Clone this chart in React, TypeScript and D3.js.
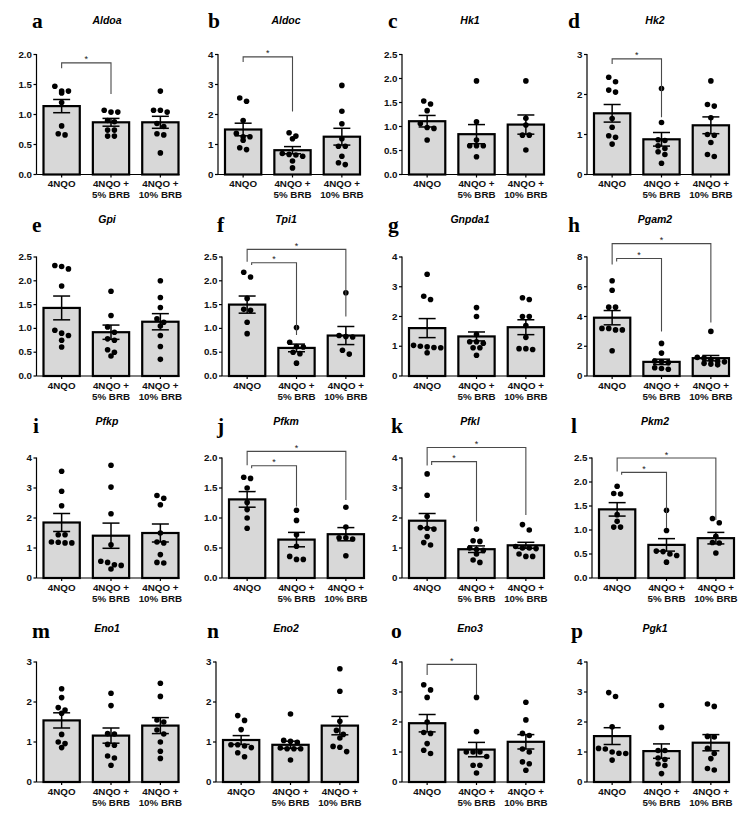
import React from 'react';
import * as d3 from 'd3';

// ---------- data ----------
const groupLabels: string[][] = [['4NQO'], ['4NQO +', '5% BRB'], ['4NQO +', '10% BRB']];
const panelLetters = ['a', 'b', 'c', 'd', 'e', 'f', 'g', 'h', 'i', 'j', 'k', 'l', 'm', 'n', 'o', 'p'];
const geneNames = ['Aldoa', 'Aldoc', 'Hk1', 'Hk2', 'Gpi', 'Tpi1', 'Gnpda1', 'Pgam2', 'Pfkp', 'Pfkm', 'Pfkl', 'Pkm2', 'Eno1', 'Eno2', 'Eno3', 'Pgk1'];
const yMaxima = [2, 4, 2.5, 3, 2.5, 2.5, 4, 8, 4, 2, 4, 2.5, 3, 3, 4, 4];
const yTickSteps = [0.5, 1, 0.5, 1, 0.5, 0.5, 1, 2, 1, 0.5, 1, 0.5, 1, 1, 1, 1];

const barMeans = [
  [1.14, 0.87, 0.87], [1.5, 0.81, 1.26], [1.11, 0.84, 1.04], [1.53, 0.88, 1.23],
  [1.43, 0.92, 1.14], [1.5, 0.59, 0.85], [1.61, 1.33, 1.64], [3.92, 0.95, 1.2],
  [1.85, 1.41, 1.5], [1.31, 0.64, 0.73], [1.91, 0.96, 1.09], [1.43, 0.69, 0.83],
  [1.54, 1.16, 1.41], [1.05, 0.93, 1.41], [1.96, 1.08, 1.34], [1.53, 1.03, 1.31],
];
const barSEMs = [
  [0.11, 0.065, 0.1], [0.21, 0.12, 0.28], [0.12, 0.2, 0.2], [0.22, 0.17, 0.21],
  [0.25, 0.15, 0.17], [0.18, 0.08, 0.19], [0.32, 0.15, 0.25], [0.48, 0.18, 0.18],
  [0.3, 0.42, 0.3], [0.13, 0.12, 0.11], [0.24, 0.11, 0.1], [0.14, 0.13, 0.12],
  [0.19, 0.19, 0.2], [0.11, 0.09, 0.23], [0.29, 0.24, 0.24], [0.28, 0.24, 0.27],
];

const dotsAldoa = [[1.47, 1.39, 1.39, 1.36, 1.2, 0.81, 0.66, 0.68], [1.07, 1.04, 1.04, 0.9, 0.88, 0.74, 0.74, 0.64, 0.64], [1.39, 1.07, 1.04, 1.07, 0.85, 0.8, 0.68, 0.66, 0.36]];
const dotsAldoc = [[2.55, 2.44, 1.8, 1.37, 1.26, 1.26, 1.14, 0.83, 0.89], [1.39, 1.28, 1.19, 0.7, 0.67, 0.65, 0.61, 0.45, 0.22], [2.97, 2.11, 1.69, 1.19, 0.94, 0.94, 0.61, 0.39, 0.33]];
const dotsHk1 = [[1.53, 1.47, 1.33, 1.06, 0.98, 0.96, 0.72], [1.95, 1.1, 0.72, 0.6, 0.6, 0.6, 0.37], [1.95, 1.17, 1.03, 0.82, 0.82, 0.51]];
const dotsHk2 = [[2.43, 2.32, 2.11, 2.06, 1.4, 1.18, 0.97, 0.93, 0.76], [2.15, 1.3, 0.87, 0.85, 0.72, 0.65, 0.57, 0.5, 0.28], [2.34, 1.75, 1.71, 1.42, 1.0, 0.98, 0.8, 0.5, 0.45]];
const dotsGpi = [[2.32, 2.3, 2.25, 1.89, 0.96, 0.9, 0.85, 0.75, 0.61], [1.78, 1.27, 1.03, 0.92, 0.78, 0.75, 0.55, 0.5, 0.42], [2.0, 1.65, 1.44, 1.2, 1.13, 1.05, 0.85, 0.62, 0.35]];
const dotsTpi1 = [[2.18, 2.08, 1.63, 1.4, 1.38, 1.13, 0.89], [1.02, 0.71, 0.62, 0.61, 0.5, 0.47, 0.27], [1.75, 0.85, 0.83, 0.82, 0.54, 0.46]];
const dotsGnpda1 = [[3.42, 2.68, 2.57, 1.03, 1.0, 0.98, 0.96, 0.95, 0.78], [2.3, 2.0, 1.4, 1.15, 1.15, 1.1, 0.95, 0.95, 0.7], [2.63, 2.57, 2.0, 2.0, 1.7, 1.3, 0.92, 0.92, 0.89]];
const dotsPgam2 = [[6.4, 5.76, 4.63, 4.63, 3.2, 3.1, 3.1, 3.2, 1.7], [2.19, 1.54, 1.0, 0.95, 0.9, 0.55, 0.5, 0.45], [3.0, 1.25, 1.2, 1.1, 1.0, 0.95, 0.85, 0.8, 0.75]];
const dotsPfkp = [[3.56, 2.89, 2.41, 1.44, 1.44, 1.2, 1.19, 1.17, 1.17], [3.76, 3.03, 2.14, 1.11, 0.56, 0.52, 0.44, 0.42, 0.3], [2.75, 2.66, 2.44, 1.5, 1.2, 1.17, 0.78, 0.52, 0.5]];
const dotsPfkm = [[1.68, 1.66, 1.5, 1.26, 1.14, 1.0, 0.83], [1.13, 0.96, 0.72, 0.53, 0.36, 0.31, 0.31], [1.18, 0.85, 0.67, 0.65, 0.67, 0.37]];
const dotsPfkl = [[3.47, 2.76, 2.05, 1.68, 1.66, 1.63, 1.38, 1.18, 1.1], [1.63, 1.24, 1.22, 1.0, 0.95, 0.92, 0.8, 0.6, 0.52], [1.78, 1.6, 1.05, 1.0, 1.0, 0.98, 0.8, 0.72, 0.72]];
const dotsPkm2 = [[1.91, 1.76, 1.75, 1.32, 1.18, 1.06, 1.06], [1.41, 0.99, 0.56, 0.55, 0.5, 0.47, 0.33], [1.24, 1.15, 0.87, 0.74, 0.73, 0.52]];
const dotsEno1 = [[2.33, 2.11, 1.86, 1.8, 1.72, 1.19, 1.0, 0.96, 0.86], [2.22, 1.91, 1.21, 1.2, 0.94, 0.92, 0.65, 0.6, 0.42], [2.47, 2.14, 1.55, 1.5, 1.3, 1.2, 1.0, 0.77, 0.59]];
const dotsEno2 = [[1.66, 1.54, 1.31, 0.93, 0.93, 0.9, 0.86, 0.73, 0.63], [1.7, 1.04, 1.02, 0.99, 0.85, 0.83, 0.83, 0.83, 0.55], [2.83, 2.27, 1.52, 1.29, 1.19, 1.1, 0.89, 0.87, 0.76]];
const dotsEno3 = [[3.24, 3.07, 2.82, 2.0, 1.65, 1.62, 1.28, 1.06, 0.95], [2.82, 1.68, 1.0, 1.0, 1.0, 0.85, 0.56, 0.56, 0.3], [2.66, 2.07, 1.62, 1.55, 1.1, 1.0, 0.67, 0.61, 0.39]];
const dotsPgk1 = [[2.98, 2.85, 1.84, 1.12, 1.1, 1.0, 0.96, 0.95, 0.73], [2.55, 1.82, 1.05, 1.05, 0.8, 0.75, 0.6, 0.55, 0.28], [2.6, 2.52, 1.52, 1.5, 1.12, 0.95, 0.78, 0.45, 0.4]];
const dotValues = [dotsAldoa, dotsAldoc, dotsHk1, dotsHk2, dotsGpi, dotsTpi1, dotsGnpda1, dotsPgam2, dotsPfkp, dotsPfkm, dotsPfkl, dotsPkm2, dotsEno1, dotsEno2, dotsEno3, dotsPgk1];

// [panel, fromGroup, toGroup, bracketLevel, leftLegEnd, rightLegEnd] in data units
const sigBrackets: number[][] = [
  [0, 0, 1, 1.86, 1.77, 1.34],
  [1, 0, 1, 3.92, 3.75, 2.1],
  [3, 0, 1, 2.89, 2.76, 1.43],
  [5, 0, 2, 2.66, 2.4, 1.25],
  [5, 0, 1, 2.38, 2.33, 0.86],
  [7, 0, 2, 8.9, 7.5, 3.6],
  [7, 0, 1, 7.9, 7.7, 3.0],
  [9, 0, 2, 2.11, 1.88, 1.3],
  [9, 0, 1, 1.87, 1.83, 1.19],
  [10, 0, 2, 4.35, 3.75, 2.1],
  [10, 0, 1, 3.88, 3.77, 1.88],
  [11, 0, 2, 2.5, 2.22, 1.21],
  [11, 0, 1, 2.2, 2.15, 1.04],
  [14, 0, 1, 3.92, 3.57, 2.9],
];

// ---------- layout ----------
const W = 742, H = 817;
const axisXs = [36.5, 218, 402, 587, 36.5, 222, 402, 587, 36.5, 222, 402, 592, 36.5, 216, 402, 587];
const letterXs = [32, 208, 388, 568, 32, 217, 388, 568, 33, 217, 391, 571, 32, 207, 391, 571];
const titleXs = [107, 286, 470, 655];
const rowTops = [54.5, 257, 458, 662];
const rowBases = [174.5, 376, 578, 782];
const letterBaselines = [28, 232, 433, 638];
const titleBaselines = [24, 223, 425, 632];
const SANS = '"Liberation Sans", Arial, Helvetica, sans-serif';
const SERIF = '"Liberation Serif", "Times New Roman", serif';
const STRETCH = 1.18;
const DOT_R = 2.8;
const DOT_SP = 6.8;

function swarm(values: number[], y: (v: number) => number) {
  const sorted = values.map((v) => ({ v, py: y(v) })).sort((a, b) => a.py - b.py);
  const out: { py: number; dx: number }[] = [];
  let group: { v: number; py: number }[] = [];
  const flush = () => {
    group.forEach((p, k) => out.push({ py: p.py, dx: (k - (group.length - 1) / 2) * DOT_SP }));
    group = [];
  };
  for (const p of sorted) {
    if (group.length && p.py - group[0].py >= DOT_R * 2) flush();
    group.push(p);
  }
  flush();
  return out;
}

function Panel({ idx }: { idx: number }) {
  const row = Math.floor(idx / 4);
  const col = idx % 4;
  const ax = axisXs[idx];
  const top = rowTops[row];
  const base = rowBases[row];
  const y = d3.scaleLinear().domain([0, yMaxima[idx]]).range([base, top]);
  const x = d3.scaleBand<string>().domain(['0', '1', '2']).range([ax + 7, ax + 142]).paddingInner(0.265).paddingOuter(0);
  const bw = x.bandwidth();
  const cx = (g: number) => (x(String(g)) as number) + bw / 2;
  const step = yTickSteps[idx];
  const ticks = d3.range(0, yMaxima[idx] + 1e-9, step);
  const fmt = step < 1 ? d3.format('.1f') : d3.format('d');
  const brackets = sigBrackets.filter((b) => b[0] === idx);
  const hasOuter = brackets.some((b) => b[2] === 2);

  return (
    <g>
      <text x={letterXs[idx]} y={letterBaselines[row]} fontFamily={SERIF} fontWeight="bold" fontSize={21.5} fill="#000">
        {panelLetters[idx]}
      </text>
      <text x={titleXs[col]} y={titleBaselines[row]} fontFamily={SANS} fontWeight="bold" fontStyle="italic" fontSize={10.5} textAnchor="middle" fill="#000">
        {geneNames[idx]}
      </text>
      {barMeans[idx].map((m, g) => (
        <rect key={'b' + g} x={x(String(g))} y={y(m)} width={bw} height={base - y(m)} fill="#d8d8d8" stroke="#000" strokeWidth={2.2} />
      ))}
      {barMeans[idx].map((m, g) => {
        const s = barSEMs[idx][g];
        const c = cx(g);
        return (
          <g key={'e' + g} stroke="#000" strokeWidth={1.5}>
            <line x1={c} x2={c} y1={y(m + s)} y2={y(m - s)} />
            <line x1={c - 8.5} x2={c + 8.5} y1={y(m + s)} y2={y(m + s)} />
            <line x1={c - 8.5} x2={c + 8.5} y1={y(m - s)} y2={y(m - s)} />
          </g>
        );
      })}
      {dotValues[idx].map((vals, g) =>
        swarm(vals, y).map((p, k) => <circle key={'d' + g + '-' + k} cx={cx(g) + p.dx} cy={p.py} r={DOT_R} fill="#000" />)
      )}
      <line x1={ax} x2={ax} y1={top - 0.5} y2={base} stroke="#000" strokeWidth={1.2} />
      {ticks.map((t) => (
        <g key={'t' + t}>
          <line x1={ax - 3} x2={ax} y1={y(t)} y2={y(t)} stroke="#000" strokeWidth={1.2} />
          <text transform={`translate(${ax - 4.5},${y(t) + 3}) scale(${STRETCH},1)`} textAnchor="end" fontFamily={SANS} fontWeight="bold" fontSize={8.3} fill="#111">
            {fmt(t)}
          </text>
        </g>
      ))}
      <line x1={ax} x2={ax + 143} y1={base} y2={base} stroke="#000" strokeWidth={1.2} />
      {groupLabels.map((lines, g) => (
        <g key={'x' + g}>
          <line x1={cx(g)} x2={cx(g)} y1={base} y2={base + 3} stroke="#000" strokeWidth={1.2} />
          {lines.map((ln, li) => (
            <text key={li} transform={`translate(${cx(g)},${base + 12.5 + li * 11}) scale(${STRETCH},1)`} textAnchor="middle" fontFamily={SANS} fontWeight="bold" fontSize={8.3} fill="#111">
              {ln}
            </text>
          ))}
        </g>
      ))}
      {brackets.map((b, k) => {
        const inner = hasOuter && b[2] === 1;
        const xl = cx(b[1]) + (inner ? 4.5 : 0);
        const xr = cx(b[2]);
        const yl = y(b[3]);
        return (
          <g key={'s' + k}>
            <path d={`M${xl},${y(b[4])}V${yl}H${xr}V${y(b[5])}`} fill="none" stroke="#4a4a4a" strokeWidth={1.1} />
            <text x={(xl + xr) / 2} y={yl - 0.5} textAnchor="middle" fontFamily={SANS} fontSize={9} fill="#222">
              *
            </text>
          </g>
        );
      })}
    </g>
  );
}

export default function App() {
  return (
    <svg width={W} height={H} viewBox={`0 0 ${W} ${H}`} style={{ position: 'absolute', left: 0, top: 0, background: '#fff' }}>
      <rect x={0} y={0} width={W} height={H} fill="#fff" />
      {d3.range(16).map((i) => (
        <Panel key={i} idx={i} />
      ))}
    </svg>
  );
}
